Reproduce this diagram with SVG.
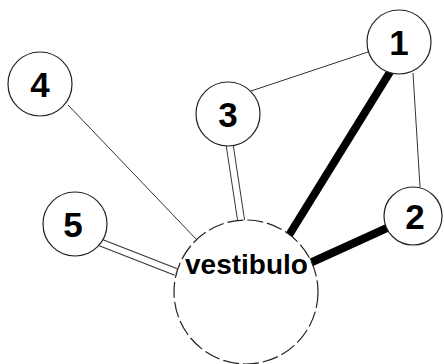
<svg xmlns="http://www.w3.org/2000/svg" width="444" height="364" viewBox="0 0 444 364">
<style>
.n{fill:#fff;stroke:#222;stroke-width:1.2}
.v{fill:#fff;stroke:#222;stroke-width:1.2;stroke-dasharray:16 4}
.t{font-family:"Liberation Sans",Arial,sans-serif;font-weight:bold;fill:#000;text-anchor:middle}
.thin{stroke:#333;stroke-width:1;fill:none}
.thick{stroke:#000;stroke-width:8;fill:none}
.dbo{stroke:#333;stroke-width:8;fill:none}
.dbi{stroke:#fff;stroke-width:6;fill:none}
</style>
<rect width="444" height="364" fill="#fff"/>
<g id="connectors">
<line class="thin" x1="68" y1="105" x2="197" y2="240"/>
<line class="thin" x1="251" y1="91" x2="368" y2="52"/>
<line class="thin" x1="413" y1="73" x2="420" y2="187"/>
<line class="thick" x1="390" y1="72" x2="286" y2="240"/>
<line class="thick" x1="387" y1="228" x2="310" y2="263"/>
<line class="dbo" x1="229.5" y1="144" x2="241.5" y2="223"/>
<line class="dbi" x1="229.5" y1="144" x2="241.5" y2="223"/>
<line class="dbo" x1="100.5" y1="242.5" x2="176" y2="272"/>
<line class="dbi" x1="100.5" y1="242.5" x2="176" y2="272"/>
</g>
<g id="node-vestibulo">
<circle class="v" cx="246" cy="292" r="72"/>
<text class="t" x="246.5" y="274" font-size="28">vestibulo</text>
</g>
<g id="node-1">
<circle class="n" cx="399" cy="42" r="32"/>
<text class="t" x="399" y="55" font-size="35">1</text>
</g>
<g id="node-2">
<circle class="n" cx="413" cy="216" r="29"/>
<text class="t" x="415" y="229" font-size="35">2</text>
</g>
<g id="node-3">
<circle class="n" cx="228" cy="114" r="32"/>
<text class="t" x="228" y="127" font-size="35">3</text>
</g>
<g id="node-4">
<circle class="n" cx="40" cy="84" r="32"/>
<text class="t" x="40" y="97" font-size="35">4</text>
</g>
<g id="node-5">
<circle class="n" cx="75" cy="224" r="32"/>
<text class="t" x="73" y="237" font-size="35">5</text>
</g>
</svg>
